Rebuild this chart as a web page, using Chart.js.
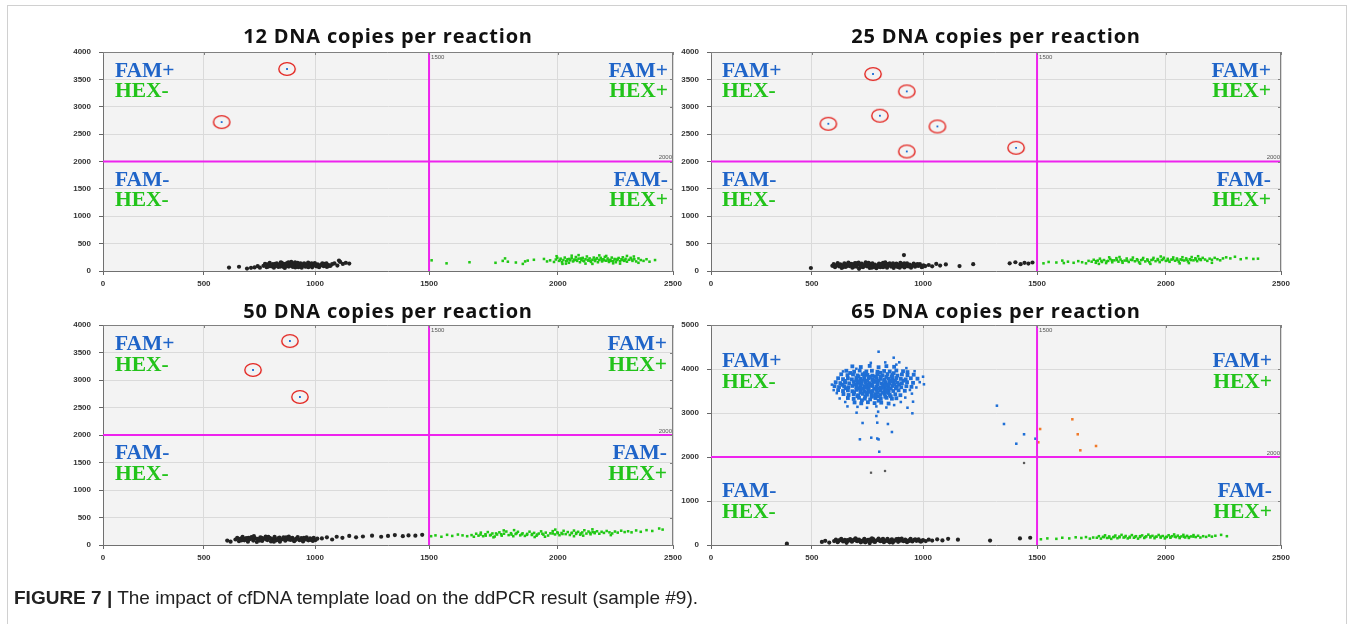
<!DOCTYPE html>
<html>
<head>
<meta charset="utf-8">
<script src="https://cdn.jsdelivr.net/npm/chart.js@4.4.1/dist/chart.umd.min.js"></script>
<style>
  html, body { margin: 0; padding: 0; background: #fff; }
  #fig { position: relative; width: 1352px; height: 624px; overflow: hidden; }
  #frame { position: absolute; left: 7px; top: 5px; width: 1338px; height: 700px; border: 1px solid #d0d0d0; }
  canvas { position: absolute; }
  #caption { position: absolute; left: 14px; top: 587px; font-family: "Liberation Sans", Arial, sans-serif;
             font-size: 19px; color: #222; white-space: nowrap; }
</style>
</head>
<body>
<div id="fig">
  <div id="frame"></div>
  <canvas id="c12" width="690" height="296" style="left:3px;top:7px"></canvas>
  <canvas id="c25" width="690" height="296" style="left:611px;top:7px"></canvas>
  <canvas id="c50" width="690" height="297" style="left:3px;top:280px"></canvas>
  <canvas id="c65" width="690" height="297" style="left:611px;top:280px"></canvas>
  <div id="caption"><b>FIGURE 7 |</b> The impact of cfDNA template load on the ddPCR result (sample #9).</div>
</div>
<script>
// ---- panel titles and axis ticks ----
const panelTitles = ['12 DNA copies per reaction', '25 DNA copies per reaction',
                     '50 DNA copies per reaction', '65 DNA copies per reaction'];
const xTicks = [0, 500, 1000, 1500, 2000, 2500];            // HEX amplitude
const yTicks4000 = [0, 500, 1000, 1500, 2000, 2500, 3000, 3500, 4000];
const yTicks5000 = [0, 1000, 2000, 3000, 4000, 5000];       // FAM amplitude
const hexThreshold = 1500;
const famThreshold = 2000;

// ---- 12 copies: droplet amplitudes [HEX, FAM] ----
const p12Neg = [[613,62],[658,78],[694,45],[712,58],[728,66],[742,88],[752,60],
  [768,95],[775,130],[782,70],[790,112],[796,150],[803,85],[810,125],[815,60],[822,100],[828,140],[835,75],
  [840,115],[846,160],[852,90],[858,130],[864,55],[870,105],[876,145],[882,80],[888,120],[893,165],[899,95],
  [905,135],[911,65],[917,110],[922,150],[928,85],[934,125],[940,60],[946,100],[951,140],[957,78],[963,118],
  [969,155],[975,92],[981,130],[987,68],[993,108],[999,145],[1005,85],[1012,122],[1018,70],[1025,105],
  [1032,140],[1038,88],[1045,118],[1052,75],[1060,110],[1068,95],[1075,125],
  [800,100],[830,90],[860,110],[890,100],[920,95],[950,115],[980,105],[1010,100],[845,125],[875,90],
  [905,115],[935,140],[965,88],[995,125],[1028,118],[860,70],[900,75],[940,120],[880,160],[920,130],
  [785,120],[815,95],[845,80],[870,135],[895,110],[925,70],[955,95],[985,140],[1015,80],[1040,130],
  [1060,90],[790,80],[850,150],[910,160],[970,70],[1000,120],[1050,140],[820,130],
  [1085,140],[1098,100],[1110,165],[1122,130],[1135,150],[1150,135],[1105,190]];
const p12Pos = [[1510,195],[1568,140],[1657,160],[1758,150],[1786,185],[1795,230],[1806,170],[1837,155],
  [1864,130],[1873,175],[1883,190],[1907,205],[1946,220],[1958,175],[1970,195],
  [1985,165],[1992,210],[1998,240],[2005,185],[2012,225],[2018,160],[2024,200],[2030,245],[2036,180],
  [2042,215],[2048,150],[2054,195],[2060,235],[2066,175],[2072,210],[2078,255],[2084,185],[2090,225],
  [2096,160],[2102,200],[2108,240],[2114,178],[2120,215],[2126,265],[2132,190],[2138,230],[2144,165],
  [2150,205],[2156,245],[2162,182],[2168,220],[2174,160],[2180,200],[2186,240],[2192,175],[2198,215],
  [2204,258],[2210,188],[2216,228],[2222,165],[2228,205],[2234,245],[2240,180],[2246,220],[2252,160],
  [2258,200],[2264,238],[2270,178],[2276,215],[2282,250],[2288,185],[2294,222],[2300,170],[2308,205],
  [2316,240],[2324,185],[2332,215],[2340,175],[2350,230],[2360,200],[2372,185],[2385,215],
  [2010,200],[2040,190],[2070,195],[2100,230],[2130,205],[2160,200],[2190,210],[2220,195],[2250,210],
  [2280,200],[2050,220],[2110,190],[2170,235],[2230,185],[2290,195],[2080,205],[2140,185],[2200,195],
  [2260,220],[2320,210],
  [2020,130],[2060,280],[2120,135],[2180,285],[2240,140],[2300,275],[2350,150],[2090,290],[2210,275],
  [2150,130],[1995,270],[2270,135],[2330,265],[2035,135],
  [2422,200],[2398,170]];
const p12Rare = [[874,3690],[580,2720]];

// ---- 25 copies ----
const p25Neg = [[495,55],[914,290],
  [592,95],[598,125],[604,70],[610,110],[616,145],[622,85],[628,120],[634,55],[640,100],[646,140],[652,75],
  [658,115],[664,155],[670,90],[676,130],[682,60],[688,105],[694,145],[700,80],[706,120],[712,40],[718,95],
  [724,135],[730,70],[736,110],[742,160],[748,85],[754,125],[760,55],[766,100],[772,140],[778,75],[784,115],
  [790,50],[796,95],[802,135],[808,70],[814,110],[820,150],[826,85],[832,125],[838,60],[844,100],[850,140],
  [856,80],[862,118],[868,55],[874,95],[880,135],[886,75],[892,112],[898,150],[904,88],[910,125],[916,65],
  [922,105],[928,140],[934,82],[940,118],[946,60],[952,100],[958,135],[964,78],[970,112],[978,92],[986,125],
  [994,70],[1002,105],[1010,90],
  [620,110],[660,95],[700,100],[740,100],[780,95],[820,105],[860,95],[900,110],[940,95],[980,105],[640,70],
  [680,125],[720,75],[760,130],[800,80],[840,125],[880,90],[920,80],[960,115],[700,140],[760,85],[820,70],
  [880,115],[750,100],[850,110],
  [630,90],[665,130],[690,80],[725,105],[755,150],[785,90],[810,125],[835,95],[865,140],[890,100],
  [915,140],[945,90],[975,125],[1000,80],[710,155],[770,60],[830,160],[895,60],
  [1025,110],[1040,85],[1058,130],[1075,100],[1100,120],[1160,90],[1220,125],[1380,140],[1405,160],
  [1428,125],[1445,150],[1462,135],[1480,155]];
const p25Pos = [[1525,140],[1545,165],[1575,155],[1598,190],[1604,145],[1620,170],[1642,150],[1660,180],
  [1675,160],[1690,140],[1700,185],
  [1712,170],[1720,205],[1728,150],[1736,190],[1744,225],[1752,165],[1760,200],[1768,145],[1776,185],
  [1784,220],[1792,160],[1800,195],[1808,235],[1816,170],[1824,210],[1832,150],[1840,190],[1848,228],
  [1856,165],[1864,205],[1872,245],[1880,178],[1888,215],[1896,158],[1904,198],[1912,238],[1920,175],
  [1928,212],[1936,160],[1944,200],[1952,240],[1960,180],[1968,218],[1976,162],[1984,202],[1992,242],
  [2000,185],[2008,222],[2016,168],[2024,208],[2032,248],[2040,188],[2048,228],[2056,172],[2064,212],
  [2072,252],[2080,192],[2088,230],[2096,175],[2104,215],[2112,255],[2120,195],[2128,232],[2136,180],
  [2144,220],[2152,200],[2160,240],[2170,210],[2180,185],[2190,225],[2200,205],[2212,240],[2224,215],
  [2236,195],[2248,230],
  [1730,180],[1770,175],[1810,200],[1850,190],[1890,195],[1930,190],[1970,200],[2010,195],[2050,205],
  [2090,205],[2130,210],[1790,195],[1870,200],[1950,210],[2030,215],[2110,200],[1750,185],[1830,180],
  [1910,210],[1990,215],[2070,200],[2150,215],
  [1740,130],[1820,255],[1900,135],[1980,265],[2060,140],[2140,270],[2200,150],[1780,250],[1940,130],
  [2100,145],
  [2262,250],[2280,230],[2300,260],[2325,215],[2350,235],[2380,220],[2400,225]];
const p25Rare = [[775,3598],[927,3280],[806,2836],[574,2689],[1063,2640],[927,2183],[1408,2250]];

// ---- 50 copies ----
const p50Neg = [[605,80],[620,60],
  [642,100],[650,130],[658,70],[666,115],[674,150],[682,85],[690,125],[698,60],[706,105],[714,145],[722,80],
  [730,120],[738,55],[746,100],[754,140],[762,75],[770,115],[778,155],[786,90],[794,130],[802,65],[810,108],
  [818,148],[826,85],[834,122],[842,60],[850,100],[858,140],[866,78],[874,118],[882,155],[890,92],[898,130],
  [906,70],[914,110],[922,145],[930,88],[938,125],[946,65],[954,105],[962,140],[970,85],[978,120],[986,100],
  [994,130],[1002,90],[1010,115],
  [660,100],[700,90],[740,110],[780,100],[820,95],[860,110],[900,100],[940,105],[980,95],[680,110],[720,125],
  [760,95],[800,120],[840,80],[880,100],[920,120],[960,100],[760,130],[840,135],[700,130],
  [670,85],[710,125],[750,80],[790,150],[830,105],[870,140],[910,85],[950,130],[990,75],[725,160],
  [815,60],[885,120],
  [1030,120],[1052,140],[1075,100],[1095,150],[1120,130],[1150,165],[1180,140],[1210,155],[1250,170],
  [1290,150],[1320,165],[1350,180],[1385,160],[1410,175],[1440,170],[1470,185]];
const p50Pos = [[1508,160],[1525,175],[1548,150],[1570,185],[1590,165],[1612,190],[1630,175],[1648,160],
  [1665,180],[1674,150],[1683,205],[1692,170],[1701,225],[1710,160],[1719,195],[1728,235],[1737,175],
  [1746,210],[1755,155],[1764,190],[1773,230],[1782,170],[1791,205],[1800,245],[1809,180],[1818,215],
  [1827,160],[1836,200],[1845,240],[1854,175],[1863,212],[1872,165],[1881,202],[1890,242],[1899,182],
  [1908,220],[1917,168],[1926,208],[1935,248],[1944,188],[1953,225],[1962,172],[1971,212],[1980,252],
  [1989,192],[1998,230],[2007,178],[2016,218],[2025,258],[2034,198],[2043,235],[2052,182],[2061,222],
  [2070,262],[2079,202],[2088,240],[2097,188],[2106,228],[2115,268],[2124,208],[2133,245],[2142,195],
  [2151,235],[2160,215],[2170,250],[2180,205],[2190,240],[2200,220],[2212,255],[2224,230],[2236,210],
  [2248,245],[2260,225],[2275,260],[2290,235],[2305,250],[2320,230],[2340,265],
  [1700,190],[1740,185],[1780,195],[1820,190],[1860,195],[1900,200],[1940,205],[1980,210],[2020,200],
  [2060,215],[2100,210],[2140,220],[1760,210],[1840,215],[1920,190],[2000,215],[2080,220],[2160,230],
  [1720,170],[1880,185],
  [1750,140],[1830,270],[1910,145],[1990,280],[2070,160],[2150,285],[2230,180],[1790,265],[1950,150],
  [2110,170],
  [2360,240],[2385,270],[2410,255],[2440,300],[2455,280]];
const p50Rare = [[887,3709],[721,3182],[932,2691]];

// ---- 65 copies ----
const p65Neg = [[376,30],[545,70],[560,95],[578,55],
  [600,90],[608,120],[616,65],[624,105],[632,140],[640,80],[648,115],[656,50],[664,95],[672,135],[680,75],
  [688,110],[696,150],[704,85],[712,125],[720,60],[728,100],[736,140],[744,78],[752,118],[760,45],[768,92],
  [776,132],[784,70],[792,108],[800,148],[808,85],[816,122],[824,62],[832,102],[840,140],[848,80],[856,115],
  [864,55],[872,95],[880,135],[888,72],[896,110],[904,145],[912,88],[920,125],[928,65],[936,105],[944,140],
  [952,82],[960,118],[970,95],[980,128],[990,75],[1000,110],[1012,90],[1025,120],[1040,100],
  [620,100],[660,110],[700,100],[740,105],[780,100],[820,95],[860,105],[900,100],[940,95],[980,100],
  [680,95],[720,85],[760,120],[800,110],[840,90],[880,110],[920,95],[700,130],[780,75],[860,130],[740,60],
  [820,140],
  [650,90],[690,125],[730,80],[770,150],[810,100],[850,60],[890,140],[930,90],[965,130],[995,95],
  [1062,130],[1085,105],[1110,140],[1153,120],[1294,100],[1425,150],[1470,165]];
const p65Pos = [[1515,130],[1540,150],[1575,140],[1598,165],[1625,150],[1650,175],[1672,160],[1690,180],
  [1705,145],[1718,170],
  [1732,165],[1740,200],[1748,145],[1756,185],[1764,220],[1772,160],[1780,195],[1788,140],[1796,180],
  [1804,215],[1812,155],[1820,192],[1828,230],[1836,170],[1844,205],[1852,150],[1860,188],[1868,225],
  [1876,165],[1884,200],[1892,145],[1900,182],[1908,218],[1916,160],[1924,196],[1932,235],[1940,172],
  [1948,208],[1956,155],[1964,190],[1972,228],[1980,168],[1988,204],[1996,150],[2004,186],[2012,222],
  [2020,165],[2028,200],[2036,240],[2044,178],[2052,212],[2060,158],[2068,195],[2076,230],[2084,172],
  [2092,208],[2100,160],[2110,195],[2120,225],[2130,180],[2140,210],[2150,170],[2162,200],[2175,185],
  [2188,215],[2200,190],
  [1760,180],[1800,185],[1840,180],[1880,185],[1920,180],[1960,185],[2000,180],[2040,190],[2080,185],
  [2120,190],[1780,170],[1860,170],[1940,195],[2020,185],[2100,180],[1820,175],[1900,200],[1980,190],
  [2060,175],
  [2215,210],[2240,230],[2265,200]];
// dense FAM+ cluster
const p65Fam = [
  [682,4060],[720,4045],[760,4070],[800,4040],[835,4065],[870,4050],
  [655,3960],[690,3940],[715,3965],[745,3945],[770,3960],[795,3935],[825,3955],[850,3945],[880,3965],
  [910,3950],[930,3930],
  [632,3880],[660,3860],[685,3875],[705,3855],[728,3880],[750,3865],[772,3850],[795,3878],[818,3860],
  [840,3885],[862,3865],[885,3850],[905,3875],[930,3860],[958,3870],
  [618,3790],[640,3770],[662,3785],[680,3765],[700,3795],[718,3775],[736,3760],[755,3790],[772,3770],
  [790,3795],[808,3775],[826,3760],[844,3785],[862,3770],[880,3795],[900,3775],[922,3765],[945,3790],
  [975,3780],
  [607,3700],[628,3680],[650,3695],[668,3675],[688,3705],[706,3685],[724,3670],[742,3700],[760,3680],
  [778,3705],[796,3685],[814,3670],[832,3700],[850,3680],[868,3705],[886,3690],[905,3675],[928,3700],
  [955,3685],
  [602,3610],[622,3590],[645,3605],[664,3585],[682,3615],[700,3595],[718,3580],[736,3610],[754,3590],
  [772,3615],[790,3595],[808,3580],[826,3610],[844,3590],[862,3615],[882,3600],[902,3585],[925,3610],
  [948,3595],
  [618,3520],[640,3500],[662,3515],[682,3495],[700,3525],[718,3505],[736,3490],[754,3520],[772,3500],
  [790,3525],[808,3505],[826,3490],[845,3520],[866,3500],[890,3515],[918,3505],
  [642,3430],[665,3410],[688,3425],[708,3405],[728,3435],[748,3415],[768,3400],[788,3430],[808,3410],
  [828,3435],[850,3415],[875,3425],[898,3405],
  [662,3340],[688,3320],[712,3345],[738,3325],[762,3310],[786,3340],[810,3320],[836,3345],[860,3325],
  [880,3335],
  [692,3240],[722,3220],[752,3245],[782,3225],[812,3235],[845,3215],
  [710,3830],[735,3825],[760,3820],[785,3830],[810,3825],[835,3820],[860,3830],
  [700,3740],[725,3735],[750,3730],[775,3740],[800,3735],[825,3730],[850,3740],[875,3735],
  [695,3650],[720,3645],[745,3640],[770,3650],[795,3645],[820,3640],[845,3650],[870,3645],
  [705,3555],[730,3550],[755,3545],[780,3555],[805,3550],[830,3545],[855,3555],
  [720,3465],[745,3460],[770,3455],[795,3465],[820,3460],[845,3455],
  [740,3375],[770,3370],[800,3380],[830,3370],
  [672,3910],[738,3905],[808,3915],[868,3905],[648,3730],[712,3720],[788,3715],[858,3720],[912,3735],
  [638,3640],[702,3630],[758,3625],[832,3630],[892,3645],[652,3560],[742,3575],[818,3570],[878,3560],
  [690,3470],[760,3480],[835,3480],[705,3380],[785,3395],[855,3380],[725,3290],[800,3280]];
// scattered FAM+ droplets around the cluster and near the HEX threshold
const p65FamSparse = [[800,4393],[868,4257],[893,4152],
  [705,3140],[748,3120],[790,3150],[835,3125],
  [612,3450],[625,3330],[650,3250],[640,3945],[700,4005],[765,4140],[830,4150],[880,4100],[925,4020],
  [962,3950],[985,3700],[970,3580],[950,3440],[920,3350],[900,3250],[870,3180],[660,3150],[930,3120],
  [598,3520],[590,3645],
  [1004,3652],[1000,3825],[941,3523],[952,2993],[955,3257],[701,3007],[790,2932],[798,3030],
  [728,2773],[794,2780],[842,2750],[860,2568],[716,2402],[767,2439],[794,2420],[800,2400],[803,2120],
  [1324,3166],[1355,2750],[1443,2516],[1409,2302],[1493,2416]];
const p65Dual = [[1512,2636],[1505,2334],[1637,2857],[1658,2516],[1668,2152],[1729,2250]];
const p65Stray = [[766,1643],[829,1682],[1443,1864]];

// ---- x axis: gridline spacing of the original plot is not uniform ----
const X_BREAKS = [[0, 0], [500, 0.177], [1000, 0.372], [1500, 0.572], [2000, 0.798], [2500, 1]];
function warpFrac(v) {
  let i = 1;
  while (i < X_BREAKS.length - 1 && v > X_BREAKS[i][0]) i++;
  const [v0, f0] = X_BREAKS[i - 1], [v1, f1] = X_BREAKS[i];
  return f0 + (v - v0) * (f1 - f0) / (v1 - v0);
}
function warpValue(f) {
  let i = 1;
  while (i < X_BREAKS.length - 1 && f > X_BREAKS[i][1]) i++;
  const [v0, f0] = X_BREAKS[i - 1], [v1, f1] = X_BREAKS[i];
  return v0 + (f - f0) * (v1 - v0) / (f1 - f0);
}
class WarpScale extends Chart.LinearScale {
  static id = 'warp';
  static defaults = {};
  getPixelForValue(value) {
    if (value === null || value === undefined) return NaN;
    return this.left + warpFrac(value) * this.width;
  }
  getValueForPixel(px) {
    return warpValue((px - this.left) / this.width);
  }
}
Chart.register(WarpScale);

// ---- ring marker for rare positive droplets ----
const ring = document.createElement('canvas');
ring.width = 20; ring.height = 16;
(() => {
  const g = ring.getContext('2d');
  g.strokeStyle = '#e3241f'; g.lineWidth = 1.4;
  g.beginPath(); g.ellipse(10, 8, 8.2, 6.4, 0, 0, Math.PI * 2); g.stroke();
})();

const COLORS = { neg: '#222222', hex: '#20c814', fam: '#1f6fd6', dual: '#f07a2a', stray: '#5a5a5a',
                 thr: '#ee22ee', famText: '#1f64c8', hexText: '#22c31a' };
const pts = arr => arr.map(([x, y]) => ({ x, y }));

const panels = [
  { id: 'c12', title: panelTitles[0], yMax: 4000, yTicks: yTicks4000, tDy: 15,
    neg: p12Neg, hex: p12Pos, rare: p12Rare, qTop: [19, 39], qBot: [19, 39], qL: 12, qR: 5 },
  { id: 'c25', title: panelTitles[1], yMax: 4000, yTicks: yTicks4000, tDy: 15,
    neg: p25Neg, hex: p25Pos, rare: p25Rare, qTop: [19, 39], qBot: [19, 39], qL: 11, qR: 10 },
  { id: 'c50', title: panelTitles[2], yMax: 4000, yTicks: yTicks4000, tDy: 13,
    neg: p50Neg, hex: p50Pos, rare: p50Rare, qTop: [19, 40], qBot: [18, 39], qL: 12, qR: 6 },
  { id: 'c65', title: panelTitles[3], yMax: 5000, yTicks: yTicks5000, tDy: 13,
    neg: p65Neg, hex: p65Pos, fam: p65Fam, famSparse: p65FamSparse, dual: p65Dual, stray: p65Stray,
    qTop: [36, 57], qBot: [34, 55], qL: 11, qR: 9 }
];
const panelById = Object.fromEntries(panels.map(p => [p.id, p]));

const decor = {
  id: 'decor',
  beforeDraw(chart) {
    const { ctx, chartArea: a } = chart;
    ctx.save();
    ctx.fillStyle = '#f3f3f3';
    ctx.fillRect(a.left, a.top, a.right - a.left, a.bottom - a.top);
    ctx.restore();
  },
  afterDraw(chart) {
    const p = panelById[chart.canvas.id];
    if (!p) return;
    const { ctx, chartArea: a, scales: { x, y } } = chart;
    ctx.save();
    // top and right frame with short inner ticks
    ctx.strokeStyle = '#808080'; ctx.lineWidth = 1;
    ctx.beginPath();
    ctx.moveTo(a.left, a.top + 0.5); ctx.lineTo(a.right - 0.5, a.top + 0.5); ctx.lineTo(a.right - 0.5, a.bottom);
    x.ticks.forEach(t => { const px = Math.round(x.getPixelForValue(t.value)) + 0.5;
      ctx.moveTo(px, a.top); ctx.lineTo(px, a.top + 3); });
    y.ticks.forEach(t => { const py = Math.round(y.getPixelForValue(t.value)) + 0.5;
      ctx.moveTo(a.right - 3, py); ctx.lineTo(a.right, py); });
    ctx.stroke();
    // threshold values
    const xt = x.getPixelForValue(hexThreshold), yt = y.getPixelForValue(famThreshold);
    ctx.fillStyle = '#555'; ctx.font = '6px "Liberation Sans"'; ctx.textBaseline = 'middle';
    ctx.textAlign = 'left'; ctx.fillText(String(hexThreshold), xt + 2, a.top + 5);
    ctx.textAlign = 'right'; ctx.fillText(String(famThreshold), a.right - 1, yt - 4);
    // title
    ctx.fillStyle = '#111'; ctx.font = 'bold 20px "Open Sans"'; ctx.textAlign = 'center';
    ctx.letterSpacing = '0.8px';
    ctx.fillText(p.title, (a.left + a.right) / 2, a.top - p.tDy);
    ctx.letterSpacing = '0px';
    // quadrant labels
    ctx.font = 'bold 21.5px "Liberation Serif"';
    const quad = (align, xx, y1, y2, famTxt, hexTxt) => {
      ctx.textAlign = align;
      ctx.fillStyle = COLORS.famText; ctx.fillText(famTxt, xx, y1);
      ctx.fillStyle = COLORS.hexText; ctx.fillText(hexTxt, xx, y2);
    };
    quad('left', a.left + p.qL, a.top + p.qTop[0], a.top + p.qTop[1], 'FAM+', 'HEX-');
    quad('right', a.right - p.qR, a.top + p.qTop[0], a.top + p.qTop[1], 'FAM+', 'HEX+');
    quad('left', a.left + p.qL, yt + p.qBot[0], yt + p.qBot[1], 'FAM-', 'HEX-');
    quad('right', a.right - p.qR, yt + p.qBot[0], yt + p.qBot[1], 'FAM-', 'HEX+');
    ctx.restore();
  }
};

const tickFont = { family: '"Liberation Sans"', size: 8, weight: 'bold' };

panels.forEach(p => {
  const datasets = [
    { type: 'line', data: [{ x: hexThreshold, y: 0 }, { x: hexThreshold, y: p.yMax }],
      borderColor: COLORS.thr, borderWidth: 2, pointRadius: 0 },
    { type: 'line', data: [{ x: 0, y: famThreshold }, { x: 2500, y: famThreshold }],
      borderColor: COLORS.thr, borderWidth: 2, pointRadius: 0 }
  ];
  if (p.rare) {
    datasets.push({ data: pts(p.rare), pointStyle: ring, pointRadius: 7 });
    datasets.push({ data: pts(p.rare), pointStyle: 'rect', pointRadius: 1.3,
      backgroundColor: COLORS.fam, borderWidth: 0 });
  }
  if (p.dual) datasets.push({ data: pts(p.dual), pointStyle: 'rect', pointRadius: 1.8,
      backgroundColor: COLORS.dual, borderWidth: 0 });
  if (p.stray) datasets.push({ data: pts(p.stray), pointStyle: 'rect', pointRadius: 1.6,
      backgroundColor: COLORS.stray, borderWidth: 0 });
  if (p.famSparse) datasets.push({ data: pts(p.famSparse), pointStyle: 'rect', pointRadius: 1.8,
      backgroundColor: COLORS.fam, borderWidth: 0 });
  if (p.fam) datasets.push({ data: pts(p.fam), pointStyle: 'rect', pointRadius: 2.7,
      backgroundColor: COLORS.fam, borderWidth: 0 });
  datasets.push({ data: pts(p.hex), pointStyle: 'rect', pointRadius: 1.8,
    backgroundColor: COLORS.hex, borderWidth: 0 });
  datasets.push({ data: pts(p.neg), pointStyle: 'circle', pointRadius: 2.1,
    backgroundColor: COLORS.neg, borderWidth: 0 });

  new Chart(document.getElementById(p.id), {
    type: 'scatter',
    data: { datasets },
    options: {
      responsive: false, animation: false, devicePixelRatio: 1,
      layout: { padding: { left: 60, top: 45, right: 20, bottom: 10 } },
      plugins: { legend: { display: false }, tooltip: { enabled: false }, title: { display: false } },
      scales: {
        x: {
          type: 'warp', min: 0, max: 2500,
          afterBuildTicks: s => { s.ticks = xTicks.map(v => ({ value: v })); },
          ticks: { font: tickFont, color: '#333', padding: 4, maxRotation: 0, autoSkip: false,
                   callback: v => String(v) },
          grid: { color: '#dadada', tickColor: '#666', tickLength: 4 },
          border: { color: '#707070' },
          afterFit: s => { s.height = 22; }
        },
        y: {
          min: 0, max: p.yMax,
          afterBuildTicks: s => { s.ticks = p.yTicks.map(v => ({ value: v })); },
          ticks: { font: tickFont, color: '#333', padding: 8, callback: v => String(v) },
          grid: { color: '#dadada', tickColor: '#666', tickLength: 4 },
          border: { color: '#707070' },
          afterFit: s => { s.width = 40; }
        }
      }
    },
    plugins: [decor]
  });
});
</script>
</body>
</html>
